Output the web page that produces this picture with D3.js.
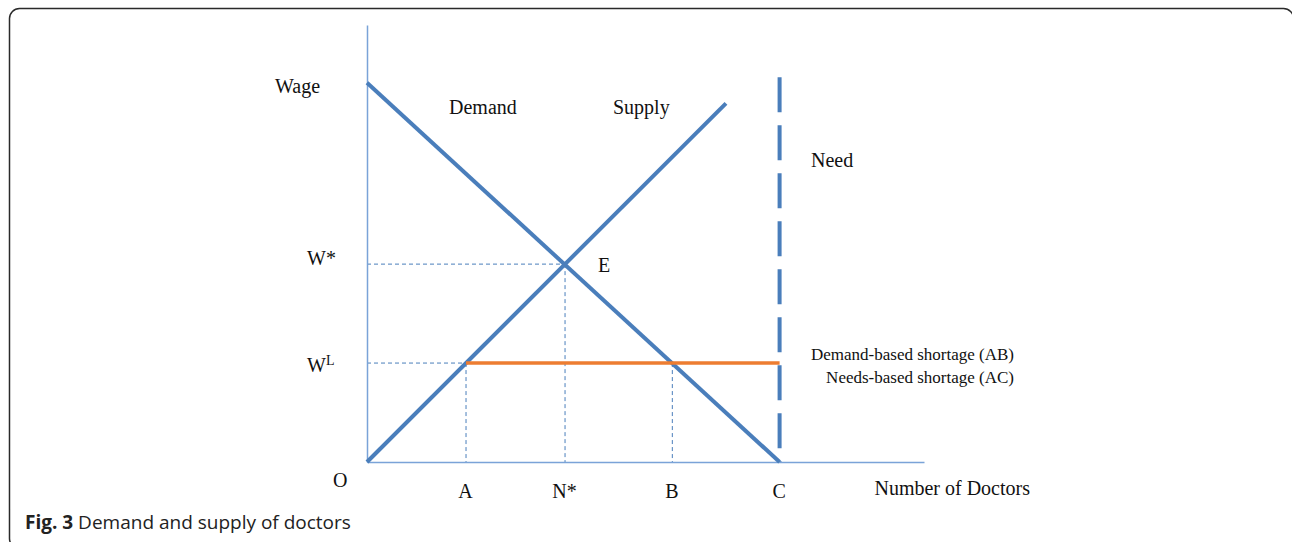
<!DOCTYPE html>
<html>
<head>
<meta charset="utf-8">
<script src="https://cdn.jsdelivr.net/npm/d3@7"></script>
<style>
  body { margin: 0; background: #fff; }
  svg { display: block; }
</style>
</head>
<body>
<div id="chart"></div>
<script>
// data (abstract units)
var demandX = [0, 10];
var demandY = [9.2, 0];
var supplyX = [0, 8.7];
var supplyY = [0, 8.7];
var needX = [10, 10];
var needY = [0, 9.33];
var xTickValues = [2.4, 4.8, 7.4, 10];
var xTickLabels = ["A", "N*", "B", "C"];
var yTickValues = [4.8, 2.4];
var yTickLabels = ["W*", "W"];
var wageEq = 4.8, doctorsEq = 4.8;
var wageLow = 2.4, pointA = 2.4, pointB = 7.4, pointC = 10;

var width = 1292, height = 542;
var blue = "#4a7ebb", axisBlue = "#7aa3d8", orange = "#ed7d31";
var serif = "'Liberation Serif', 'Times New Roman', serif";

var svg = d3.select("#chart")
  .append("svg")
    .attr("width", width)
    .attr("height", height);

// rounded figure frame (right and bottom edges run off the page)
svg.append("rect")
  .attr("x", 9.5)
  .attr("y", 8.5)
  .attr("width", 1284)
  .attr("height", 540)
  .attr("rx", 10)
  .attr("fill", "none")
  .attr("stroke", "#2a2a2a")
  .attr("stroke-width", 1.5);

// scales
var x = d3.scaleLinear().domain([0, 13.5]).range([367, 924]);
var y = d3.scaleLinear().domain([0, 10.6]).range([462, 25]);

var line = d3.line()
  .x(function (d) { return x(d[0]); })
  .y(function (d) { return y(d[1]); });

function pts(xs, ys) {
  return xs.map(function (v, i) { return [v, ys[i]]; });
}

// dashed guide lines
var guides = [
  [[0, wageEq], [doctorsEq, wageEq]],
  [[doctorsEq, wageEq], [doctorsEq, 0]],
  [[0, wageLow], [pointA, wageLow]],
  [[pointA, wageLow], [pointA, 0]],
  [[pointB, wageLow], [pointB, 0]]
];
svg.selectAll(".guide")
  .data(guides)
  .enter().append("path")
    .attr("class", "guide")
    .attr("d", line)
    .attr("fill", "none")
    .attr("stroke", blue)
    .attr("stroke-width", 1)
    .attr("stroke-dasharray", "4,3");

// x axis
var xAxis = d3.axisBottom(x)
  .tickValues(xTickValues)
  .tickFormat(function (d, i) { return xTickLabels[i]; })
  .tickSize(0);
var gx = svg.append("g")
  .attr("transform", "translate(0," + y(0) + ")")
  .call(xAxis);
gx.select(".domain").attr("stroke", axisBlue).attr("stroke-width", 1.5);
gx.selectAll("text")
  .attr("y", 36)
  .attr("dy", 0)
  .attr("dx", -1)
  .style("font-family", serif)
  .style("font-size", "20px")
  .attr("fill", "#111");

// y axis
var yAxis = d3.axisLeft(y)
  .tickValues(yTickValues)
  .tickFormat(function (d, i) { return yTickLabels[i]; })
  .tickSize(0)
  .tickPadding(32);
var gy = svg.append("g")
  .attr("transform", "translate(" + x(0) + ",0)")
  .call(yAxis);
gy.select(".domain").attr("stroke", axisBlue).attr("stroke-width", 1.5);
gy.selectAll("text")
  .attr("dy", "0.02em")
  .attr("text-anchor", "start")
  .attr("x", -60)
  .style("font-family", serif)
  .style("font-size", "20px")
  .attr("fill", "#111");
// superscript L on the low wage
gy.selectAll("text")
  .filter(function (d, i) { return i === 1; })
  .attr("dy", "0.4em")
  .append("tspan")
    .attr("dy", "-0.45em")
    .style("font-size", "14px")
    .text("L");

// demand, supply and need curves
svg.append("path")
  .attr("d", line(pts(demandX, demandY)))
  .attr("fill", "none")
  .attr("stroke", blue)
  .attr("stroke-width", 4);

svg.append("path")
  .attr("d", line(pts(supplyX, supplyY)))
  .attr("fill", "none")
  .attr("stroke", blue)
  .attr("stroke-width", 4);

svg.append("path")
  .attr("d", line(pts(needX, needY.slice().reverse())))
  .attr("fill", "none")
  .attr("stroke", blue)
  .attr("stroke-width", 4)
  .attr("stroke-dasharray", "35,13");

// shortage at the low wage
svg.append("path")
  .attr("d", line([[pointA, wageLow], [pointC, wageLow]]))
  .attr("fill", "none")
  .attr("stroke", orange)
  .attr("stroke-width", 3.5);

// labels
var labels = [
  {t: "Wage", x: 275, y: 93, s: 20, a: "start"},
  {t: "Demand", x: 449, y: 114, s: 20, a: "start"},
  {t: "Supply", x: 613, y: 114, s: 20, a: "start"},
  {t: "Need", x: 811, y: 167, s: 20, a: "start"},
  {t: "E", x: 598, y: 272, s: 20, a: "start"},
  {t: "O", x: 333, y: 487, s: 20, a: "start"},
  {t: "Number of Doctors", x: 1030, y: 495, s: 20, a: "end"},
  {t: "Demand-based shortage (AB)", x: 1014, y: 360, s: 17, a: "end"},
  {t: "Needs-based shortage (AC)", x: 1014, y: 383, s: 17, a: "end"}
];
svg.selectAll(".label")
  .data(labels)
  .enter().append("text")
    .attr("class", "label")
    .attr("x", function (d) { return d.x; })
    .attr("y", function (d) { return d.y; })
    .attr("text-anchor", function (d) { return d.a; })
    .style("font-family", serif)
    .style("font-size", function (d) { return d.s + "px"; })
    .attr("fill", "#111")
    .text(function (d) { return d.t; });

// caption
var caption = svg.append("text")
  .attr("x", 25)
  .attr("y", 529)
  .style("font-family", "'Open Sans', sans-serif")
  .style("font-size", "19px")
  .attr("fill", "#222");
caption.append("tspan").style("font-weight", "bold").text("Fig. 3");
caption.append("tspan").text(" Demand and supply of doctors");
</script>
</body>
</html>
